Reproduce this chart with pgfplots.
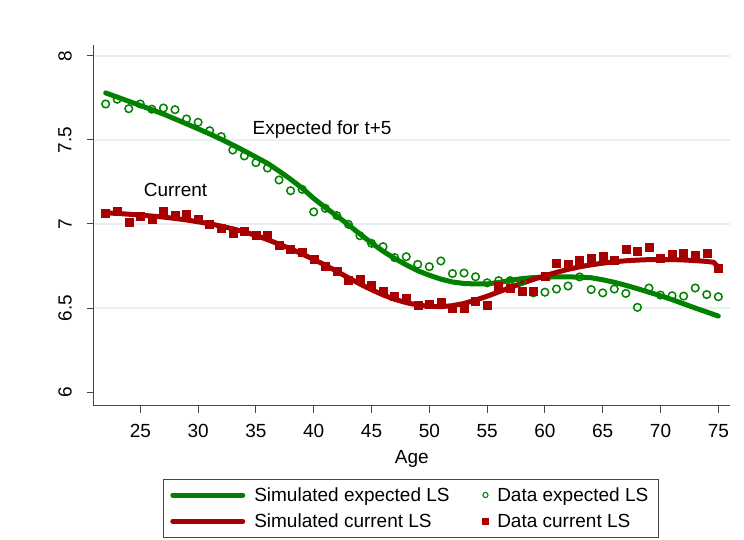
\documentclass[border=0pt]{standalone}
\usepackage{pgfplots}
\pgfplotsset{compat=1.18}
\usepackage{pgfplotstable}
\usepackage{fontspec}
\setmainfont{Liberation Sans}

\definecolor{simgreen}{RGB}{0,130,0}
\definecolor{simred}{RGB}{168,0,0}
\definecolor{gridgray}{RGB}{232,239,242}
\definecolor{axisgray}{RGB}{70,70,70}

\pgfplotsset{
  lineleg/.style={legend image code/.code={\draw[##1] (0pt,0pt) -- (70pt,0pt);}},
  circleg/.style={legend image code/.code={\draw[##1, mark size=2.6pt, mark options={line width=1.1pt}] plot coordinates {(0pt,0pt)};}},
  squareleg/.style={legend image code/.code={\draw[##1, mark size=2.8pt] plot coordinates {(0pt,0pt)};}},
}

% Simulated (model) life satisfaction by age
\pgfplotstableread{
age val
22 7.780
23 7.755
24 7.730
25 7.705
26 7.680
27 7.654
28 7.625
29 7.596
30 7.566
31 7.536
32 7.504
33 7.470
34 7.435
35 7.398
36 7.361
37 7.315
38 7.266
39 7.213
40 7.152
41 7.098
42 7.048
43 6.995
44 6.940
45 6.887
46 6.838
47 6.795
48 6.757
49 6.722
50 6.695
51 6.672
52 6.655
53 6.646
54 6.643
55 6.643
56 6.652
57 6.664
58 6.675
59 6.681
60 6.684
61 6.685
62 6.685
63 6.684
64 6.680
65 6.668
66 6.653
67 6.635
68 6.615
69 6.594
70 6.573
71 6.550
72 6.525
73 6.500
74 6.476
75 6.452
}\simexp

\pgfplotstableread{
age val
22 7.067
23 7.063
24 7.058
25 7.053
26 7.047
27 7.041
28 7.033
29 7.024
30 7.013
31 7.001
32 6.987
33 6.971
34 6.953
35 6.932
36 6.907
37 6.880
38 6.852
39 6.822
40 6.789
41 6.755
42 6.718
43 6.680
44 6.643
45 6.609
46 6.578
47 6.552
48 6.532
49 6.518
50 6.510
51 6.508
52 6.514
53 6.527
54 6.547
55 6.570
56 6.596
57 6.622
58 6.647
59 6.670
60 6.692
61 6.712
62 6.730
63 6.745
64 6.757
65 6.767
66 6.775
67 6.781
68 6.785
69 6.788
70 6.789
71 6.788
72 6.786
73 6.782
74 6.777
74.6 6.772
75 6.742
}\simcur

% Observed life satisfaction by age
\pgfplotstableread{
age val
22 7.714
23 7.742
24 7.686
25 7.714
26 7.683
27 7.690
28 7.680
29 7.625
30 7.605
31 7.555
32 7.520
33 7.440
34 7.405
35 7.365
36 7.333
37 7.262
38 7.198
39 7.206
40 7.072
41 7.093
42 7.050
43 6.998
44 6.930
45 6.885
46 6.865
47 6.800
48 6.805
49 6.760
50 6.746
51 6.780
52 6.705
53 6.708
54 6.686
55 6.650
56 6.663
57 6.663
58 6.658
59 6.590
60 6.594
61 6.613
62 6.631
63 6.685
64 6.610
65 6.590
66 6.613
67 6.587
68 6.504
69 6.619
70 6.577
71 6.573
72 6.571
73 6.619
74 6.580
75 6.567
}\dataexp

\pgfplotstableread{
age val
22 7.064
23 7.079
24 7.008
25 7.048
26 7.028
27 7.075
28 7.055
29 7.060
30 7.028
31 7.000
32 6.972
33 6.944
34 6.960
35 6.933
36 6.933
37 6.873
38 6.850
39 6.830
40 6.788
41 6.750
42 6.718
43 6.667
44 6.674
45 6.635
46 6.600
47 6.568
48 6.560
49 6.516
50 6.524
51 6.536
52 6.496
53 6.500
54 6.540
55 6.516
56 6.631
57 6.615
58 6.602
59 6.603
60 6.690
61 6.766
62 6.762
63 6.782
64 6.798
65 6.806
66 6.782
67 6.851
68 6.837
69 6.861
70 6.798
71 6.821
72 6.825
73 6.817
74 6.829
75 6.738
}\datacur

\begin{document}
\begin{tikzpicture}[font=\fontsize{19}{23}\selectfont]
\path[use as bounding box] (0pt,0pt) rectangle (744pt,540pt);
\begin{axis}[
  at={(93.5pt,134pt)}, anchor=south west,
  scale only axis, width=636.5pt, height=361pt,
  xmin=20.95, xmax=76.01, ymin=5.917, ymax=8.065,
  axis x line*=bottom, axis y line*=left,
  axis line style={axisgray, line width=1pt, -},
  xtick={25,30,...,75}, ytick={6.5,7,7.5,8},
  extra y ticks={6}, extra y tick style={grid=none},
  ymajorgrids, major grid style={gridgray, line width=1.3pt},
  tick align=outside, major tick length=7pt,
  tick style={axisgray, line width=1pt},
  /pgf/number format/assume math mode=true,
  xticklabel style={anchor=center, yshift=-17.7pt, inner sep=0pt},
  yticklabel style={rotate=90, anchor=center, yshift=21.5pt, inner sep=0pt},
  xlabel={Age},
  xlabel style={at={(axis description cs:0.5,-0.146)}, anchor=center, inner sep=0pt},
  legend columns=2,
  legend cell align=left,
  legend style={at={(0.109,-0.2022)}, anchor=north west,
    draw=axisgray, line width=0.8pt, inner xsep=7pt, inner ysep=5pt,
    /tikz/every odd column/.append style={column sep=6pt},
    /tikz/every even column/.append style={column sep=30pt},
    nodes={inner sep=3pt}, row sep=5pt},
]
\addplot[simgreen, line width=5pt, line cap=round, line join=round, lineleg]
  table {\simexp};
\addlegendentry{Simulated expected LS}
\addplot[simgreen, only marks, mark=o, mark size=3.8pt, mark options={line width=1.5pt}, circleg]
  table {\dataexp};
\addlegendentry{Data expected LS}
\addplot[simred, line width=5pt, line cap=round, line join=round, lineleg]
  table {\simcur};
\addlegendentry{Simulated current LS}
\addplot[simred, only marks, mark=square*, mark size=4pt, mark options={draw=none, fill=simred}, squareleg]
  table {\datacur};
\addlegendentry{Data current LS}
\node[anchor=west, inner sep=0pt] at (axis cs:34.7,7.564) {Expected for t+5};
\node[anchor=west, inner sep=0pt] at (axis cs:25.29,7.202) {Current};
\end{axis}
\end{tikzpicture}
\end{document}
